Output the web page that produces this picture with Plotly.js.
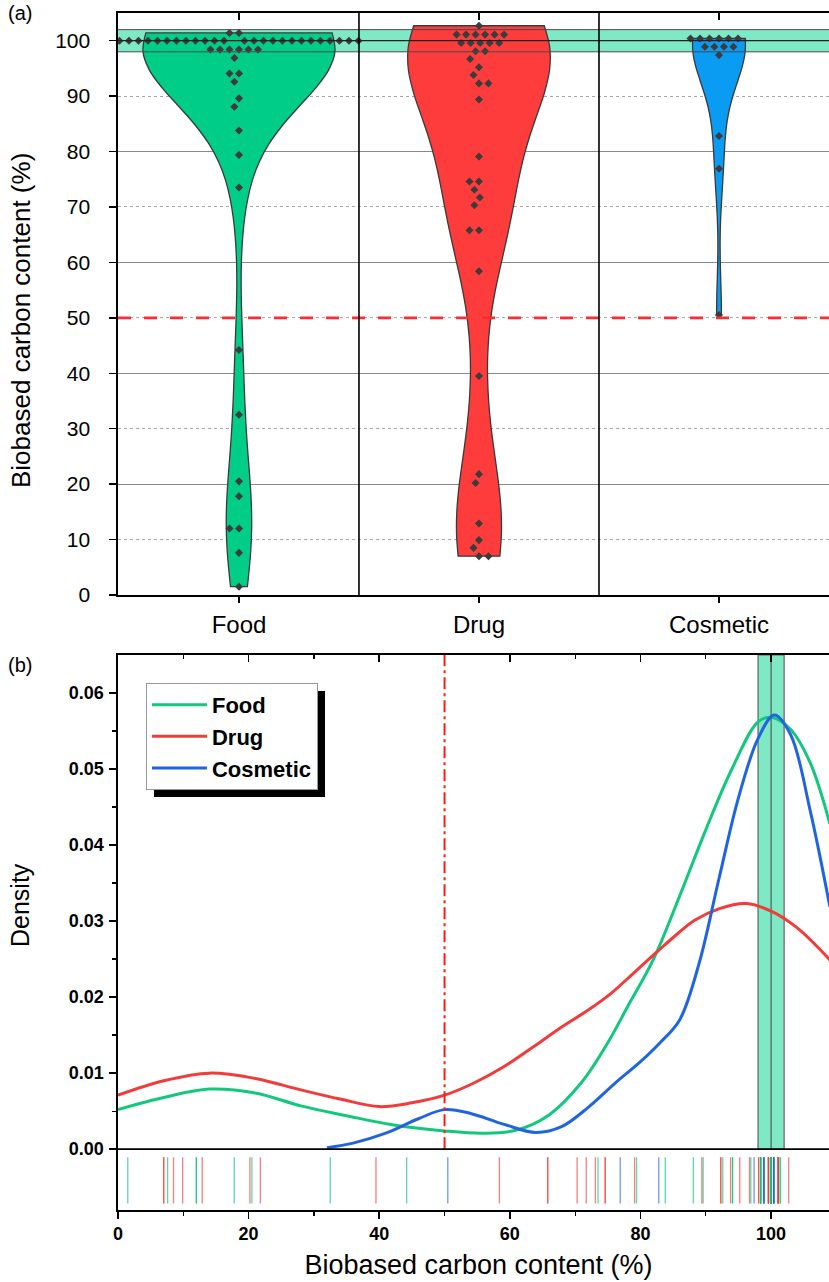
<!DOCTYPE html>
<html>
<head>
<meta charset="utf-8">
<script src="https://cdn.plot.ly/plotly-3.0.1.min.js"></script>
<style>
html,body{margin:0;padding:0;background:#fff;overflow:hidden;}
#chart{width:840px;height:1282px;}
</style>
</head>
<body>
<div id="chart"></div>
<script>
// ---------- data ----------
const categories = ['Food', 'Drug', 'Cosmetic'];

const food = [
  101.4, 101.4,
  100, 100, 100, 100, 100, 100, 100, 100, 100, 100, 100, 100, 100,
  100, 100, 100, 100, 100, 100, 100, 100, 100, 100, 100, 100, 100,
  98.4, 98.4, 98.4, 98.4, 98.4, 98.4,
  96.9, 94.1, 94.1, 92.6, 89.6, 88.1, 83.8, 79.4, 73.5,
  44.2, 32.5, 20.5, 17.8, 12.0, 12.0, 7.6, 1.5
];
const drug = [
  102.7,
  101.1, 101.1, 101.1, 101.1, 101.1, 101.1,
  99.6, 99.6, 99.6, 99.6, 99.6,
  98.1, 98.1,
  96.7, 95.2, 93.8, 92.3, 92.3, 89.4,
  79.1, 74.6, 74.6, 73.1, 71.7, 70.3, 65.8, 65.8, 58.4,
  39.5, 21.8, 20.2, 12.9, 9.9, 8.5, 7.0, 7.0
];
const cosmetic = [
  100.4, 100.4, 100.4, 100.4, 100.4, 100.4,
  98.9, 98.9, 98.9, 98.9,
  97.4, 82.8, 76.9, 50.5
];

// density curves
const foodDensX = [0, 7, 14, 21, 28, 35, 42, 50, 56, 61, 66, 71, 75, 78, 82, 86, 90, 94, 98, 100, 103, 106, 109];
const foodDensY = [0.0052, 0.0068, 0.0079, 0.0074, 0.0057, 0.0044, 0.0032, 0.0024, 0.0021, 0.0025, 0.0045, 0.0088, 0.0140, 0.0187, 0.0250, 0.0333, 0.0420, 0.0500, 0.0562, 0.0568, 0.0552, 0.0508, 0.0428];
const drugDensX = [0, 7, 14, 21, 28, 34, 40, 45, 50, 54.5, 59, 63.5, 68, 72, 75.5, 79, 82.6, 85.5, 88.3, 92, 96.2, 100, 104, 109];
const drugDensY = [0.0071, 0.0090, 0.0100, 0.0093, 0.0078, 0.0066, 0.0056, 0.0061, 0.0071, 0.0087, 0.0108, 0.0134, 0.0161, 0.0183, 0.0205, 0.0232, 0.0260, 0.0282, 0.0301, 0.0316, 0.0323, 0.0313, 0.0291, 0.0249];
const cosDensX = [32, 36, 41, 46, 50, 54, 59, 64, 68, 72, 76, 80, 83, 86, 89, 92, 95, 98, 100.5, 103, 106, 109];
const cosDensY = [0.0002, 0.0008, 0.0021, 0.0040, 0.0052, 0.0047, 0.0033, 0.0022, 0.0030, 0.0055, 0.0086, 0.0115, 0.0140, 0.0170, 0.0245, 0.0355, 0.0462, 0.0540, 0.0571, 0.0545, 0.0445, 0.0319];

const yTicksTop = [0, 10, 20, 30, 40, 50, 60, 70, 80, 90, 100];
const xTicksBottom = [0, 20, 40, 60, 80, 100];
const yTicksBottom = [0, 0.01, 0.02, 0.03, 0.04, 0.05, 0.06];

// ---------- styles ----------
const FONT = 'Liberation Sans, Arial, sans-serif';
const violinFill = ['#00CD88', '#FF3C3C', '#0A9BF2'];
const violinWidth = [0.8, 0.59, 0.22];
const violinBw = [10, 12, 7.5];
const lineCol = ['#12C87C', '#F23B3B', '#1F64E0'];
const rugCol = ['rgba(0,200,120,0.65)', 'rgba(240,60,60,0.65)', 'rgba(30,100,225,0.65)'];
const groups = [food, drug, cosmetic];

// simple beeswarm (pixel based) for the dot overlay
function swarm(values, center) {
  const D = 9.5, SX = 240, SY = 5.54;
  const idx = values.map((v, i) => i).sort((a, b) => values[b] - values[a]);
  const placed = [];
  const xs = new Array(values.length);
  idx.forEach(i => {
    const y = values[i] * SY;
    const near = placed.filter(p => Math.abs(p.y - y) < D);
    const cands = [0];
    near.forEach(p => {
      const dx = Math.sqrt(D * D - (p.y - y) * (p.y - y));
      cands.push(p.x + dx, p.x - dx);
    });
    cands.sort((a, b) => Math.abs(a) - Math.abs(b) || a - b);
    const x = cands.find(c => near.every(p => (p.x - c) * (p.x - c) + (p.y - y) * (p.y - y) >= D * D - 1e-6));
    placed.push({x: x, y: y});
    xs[i] = center + x / SX;
  });
  return xs;
}

const traces = [];
groups.forEach((g, i) => {
  traces.push({
    type: 'violin', x0: i, y: g, name: categories[i], showlegend: false,
    xaxis: 'x', yaxis: 'y',
    points: false, box: {visible: false}, meanline: {visible: false},
    spanmode: 'hard', bandwidth: violinBw[i], width: violinWidth[i], scalemode: 'width',
    fillcolor: violinFill[i], line: {color: '#3a3a3a', width: 1.3}, hoverinfo: 'skip'
  });
});
groups.forEach((g, i) => {
  traces.push({
    type: 'scatter', mode: 'markers', x: swarm(g, i), y: g, showlegend: false,
    xaxis: 'x', yaxis: 'y',
    marker: {symbol: 'diamond', size: 6.2, color: '#3c3c3c'}, hoverinfo: 'skip'
  });
});
// dummy traces for overlay axes
traces.push({type: 'scatter', x: [], y: [], xaxis: 'x', yaxis: 'y2', showlegend: false});
traces.push({type: 'scatter', x: [], y: [], xaxis: 'x3', yaxis: 'y', showlegend: false});
traces.push({type: 'scatter', x: [], y: [], xaxis: 'x4', yaxis: 'y3', showlegend: false});

// density curves
const densX = [foodDensX, drugDensX, cosDensX];
const densY = [foodDensY, drugDensY, cosDensY];
categories.forEach((c, i) => {
  traces.push({
    type: 'scatter', mode: 'lines', x: densX[i], y: densY[i], name: c,
    xaxis: 'x2', yaxis: 'y3',
    line: {color: lineCol[i], width: 3, shape: 'spline', smoothing: 1}, hoverinfo: 'skip'
  });
});
// rug
groups.forEach((g, i) => {
  traces.push({
    type: 'scatter', mode: 'markers', x: g, y: g.map(() => -0.0041), showlegend: false,
    xaxis: 'x2', yaxis: 'y3',
    marker: {symbol: 'line-ns', size: 33, line: {color: rugCol[i], width: 1.3}}, hoverinfo: 'skip'
  });
});

const axLine = {showline: true, linecolor: '#000', linewidth: 1.6, zeroline: false};
const topRange = [-0.504, 2.5];
const yTopRange = [0, 105];
const xBotRange = [0, 110.4];
const yBotRange = [-0.008, 0.065];

const layout = {
  width: 840, height: 1282,
  margin: {l: 118, r: 1, t: 13, b: 72},
  paper_bgcolor: '#fff', plot_bgcolor: 'rgba(0,0,0,0)',
  font: {family: FONT, color: '#000'},
  showlegend: true,
  xaxis: Object.assign({}, axLine, {
    domain: [0, 1], anchor: 'y', type: 'linear', range: topRange,
    tickmode: 'array', tickvals: [0, 1, 2], ticktext: categories,
    ticks: 'outside', ticklen: 6, tickwidth: 1.5, tickcolor: '#000',
    showgrid: false, tickfont: {size: 24, family: FONT}, ticklabelstandoff: 2
  }),
  xaxis3: {
    overlaying: 'x', anchor: 'y', side: 'top', type: 'linear', range: topRange,
    tickmode: 'array', tickvals: [0, 1, 2], ticks: 'inside', ticklen: 7, tickwidth: 1.5, tickcolor: '#000',
    showticklabels: false, showline: true, linecolor: '#000', linewidth: 1.6, showgrid: false, zeroline: false
  },
  yaxis: Object.assign({}, axLine, {
    domain: [0.5138, 1], anchor: 'x', range: yTopRange,
    tickmode: 'array', tickvals: yTicksTop,
    ticks: 'outside', ticklen: 7, tickwidth: 1.5, tickcolor: '#000',
    showgrid: false, tickfont: {size: 21, family: FONT}, ticklabelstandoff: 15
  }),
  yaxis2: {
    overlaying: 'y', anchor: 'x', range: yTopRange, showticklabels: false, ticks: '',
    showline: false, zeroline: false, tick0: 0, dtick: 20,
    showgrid: true, gridcolor: '#8a8a8a', gridwidth: 1,
    minor: {tick0: 0, dtick: 10, showgrid: true, gridcolor: '#a8a8a8', griddash: 'dot', gridwidth: 1, ticks: ''}
  },
  xaxis2: Object.assign({}, axLine, {
    domain: [0, 1], anchor: 'y3', range: xBotRange,
    tickmode: 'array', tickvals: xTicksBottom,
    ticks: 'outside', ticklen: 7, tickwidth: 1.5, tickcolor: '#000',
    minor: {tickvals: [10, 30, 50, 70, 90, 110], ticks: 'outside', ticklen: 4, tickwidth: 1.3, tickcolor: '#000'},
    showgrid: false, tickfont: {size: 18, family: FONT, weight: 'bold'},
    title: {text: 'Biobased carbon content (%)', font: {size: 27, family: FONT}, standoff: 12}
  }),
  xaxis4: {
    overlaying: 'x2', anchor: 'y3', side: 'top', range: xBotRange,
    tickmode: 'array', tickvals: xTicksBottom, ticks: 'inside', ticklen: 7, tickwidth: 1.5, tickcolor: '#000',
    minor: {tickvals: [10, 30, 50, 70, 90, 110], ticks: 'inside', ticklen: 4, tickwidth: 1.3, tickcolor: '#000'},
    showticklabels: false, showline: true, linecolor: '#000', linewidth: 1.6, showgrid: false, zeroline: false
  },
  yaxis3: Object.assign({}, axLine, {
    domain: [0, 0.4637], anchor: 'x2', range: yBotRange,
    tickmode: 'array', tickvals: yTicksBottom, tickformat: '.2f',
    ticks: 'outside', ticklen: 7, tickwidth: 1.5, tickcolor: '#000',
    minor: {tickvals: [0.005, 0.015, 0.025, 0.035, 0.045, 0.055], ticks: 'outside', ticklen: 4, tickwidth: 1.3, tickcolor: '#000'},
    showgrid: false, tickfont: {size: 18, family: FONT, weight: 'bold'}, ticklabelstandoff: 2
  }),
  legend: {
    x: 0.0388, y: 0.4403, xanchor: 'left', yanchor: 'top',
    bgcolor: '#fff', bordercolor: '#999', borderwidth: 1,
    font: {size: 22, family: FONT, weight: 'bold', color: '#000'},
    itemwidth: 55, tracegroupgap: 0
  },
  shapes: [
    // top panel band 98-102
    {type: 'rect', xref: 'x domain', yref: 'y', x0: 0, x1: 1, y0: 98, y1: 102,
     fillcolor: 'rgba(0,212,140,0.5)', line: {width: 0}, layer: 'below'},
    {type: 'line', xref: 'x domain', yref: 'y', x0: 0, x1: 1, y0: 98, y1: 98, line: {color: '#4a4a4a', width: 1}},
    {type: 'line', xref: 'x domain', yref: 'y', x0: 0, x1: 1, y0: 102, y1: 102, line: {color: '#4a4a4a', width: 1}},
    {type: 'line', xref: 'x domain', yref: 'y', x0: 0, x1: 1, y0: 100, y1: 100, line: {color: '#222', width: 1.2}},
    // 50 % threshold
    {type: 'line', xref: 'x domain', yref: 'y', x0: 0, x1: 1, y0: 50, y1: 50,
     line: {color: '#FF2D2D', width: 2.8, dash: '13px,13px'}},
    // category separators
    {type: 'line', xref: 'x', yref: 'y domain', x0: 0.5, x1: 0.5, y0: 0, y1: 1, line: {color: '#000', width: 1.6}},
    {type: 'line', xref: 'x', yref: 'y domain', x0: 1.5, x1: 1.5, y0: 0, y1: 1, line: {color: '#000', width: 1.6}},
    // bottom panel band
    {type: 'rect', xref: 'x2', yref: 'y3', x0: 98, x1: 102, y0: 0, y1: 0.065,
     fillcolor: 'rgba(0,212,140,0.5)', line: {color: '#4a4a4a', width: 1}, layer: 'below'},
    {type: 'line', xref: 'x2', yref: 'y3', x0: 100, x1: 100, y0: 0, y1: 0.065, line: {color: '#444', width: 1}, layer: 'below'},
    // 50 % threshold (vertical)
    {type: 'line', xref: 'x2', yref: 'y3', x0: 50, x1: 50, y0: 0, y1: 0.065,
     line: {color: '#FF1A1A', width: 2, dash: '12px,4px,3px,4px'}},
    // baseline separating rug
    {type: 'line', xref: 'x2 domain', yref: 'y3', x0: 0, x1: 1, y0: 0, y1: 0, line: {color: '#000', width: 1.6}},
    // legend shadow
    {type: 'rect', xref: 'paper', yref: 'paper', x0: 0.0499, x1: 0.2871, y0: 0.3450, y1: 0.4336,
     fillcolor: '#000', line: {width: 0}}
  ],
  annotations: [
    {text: '(a)', xref: 'paper', yref: 'paper', x: -0.155, y: 1.0, xanchor: 'left', yanchor: 'middle',
     showarrow: false, font: {size: 20, family: FONT}},
    {text: '(b)', xref: 'paper', yref: 'paper', x: -0.155, y: 0.4553, xanchor: 'left', yanchor: 'middle',
     showarrow: false, font: {size: 20, family: FONT}},
    {text: 'Biobased carbon content (%)', xref: 'paper', yref: 'paper', x: -0.1345, y: 0.7427,
     xanchor: 'center', yanchor: 'middle', textangle: -90, showarrow: false, font: {size: 26, family: FONT}},
    {text: 'Density', xref: 'paper', yref: 'paper', x: -0.1359, y: 0.2548,
     xanchor: 'center', yanchor: 'middle', textangle: -90, showarrow: false, font: {size: 25, family: FONT}}
  ]
};

Plotly.newPlot('chart', traces, layout, {displayModeBar: false, staticPlot: true});
</script>
</body>
</html>
